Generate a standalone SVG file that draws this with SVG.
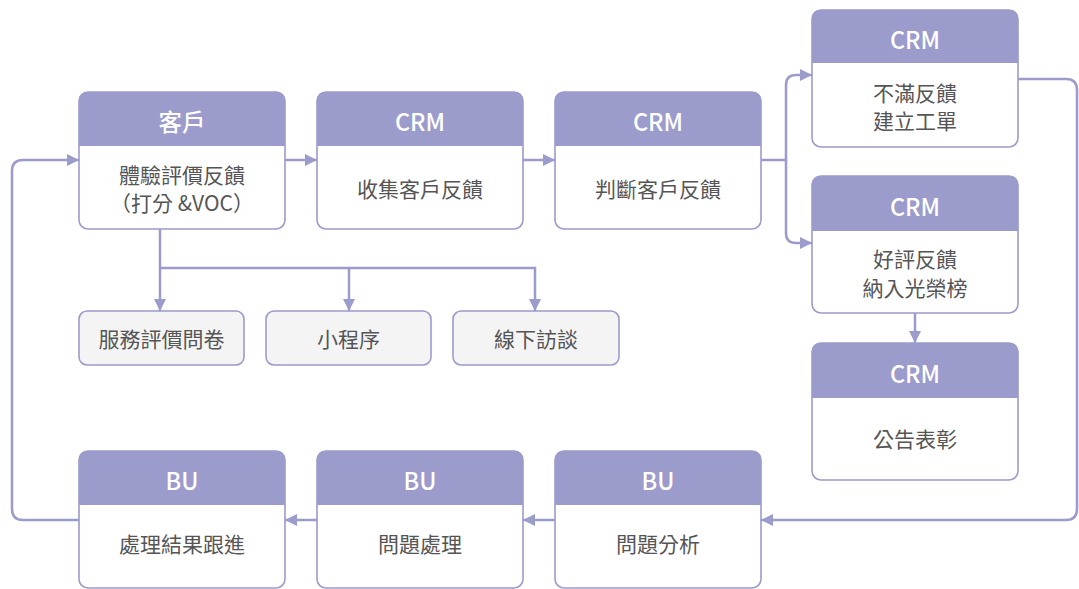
<svg xmlns="http://www.w3.org/2000/svg" width="1079" height="589" viewBox="0 0 1079 589">
<defs>
<style>
.hd{fill:#9b9bcc;}
.bd{fill:#ffffff;stroke:#9b9bcc;stroke-width:1.6;}
.sb{fill:#f4f4f4;stroke:#9b9bcc;stroke-width:1.6;}
.ht{font-family:"Noto Sans CJK TC","Noto Sans",sans-serif;font-size:23.5px;font-weight:500;fill:#ffffff;text-anchor:middle;dominant-baseline:central;}
.bt{font-family:"Noto Sans CJK TC","Noto Sans",sans-serif;font-size:21px;fill:#555555;text-anchor:middle;dominant-baseline:central;}
.ln{fill:none;stroke:#9b9bcc;stroke-width:2.5;}
</style>
<marker id="ar" viewBox="0 0 10 10" refX="10" refY="5" markerWidth="12" markerHeight="12" markerUnits="userSpaceOnUse" orient="auto">
<path d="M0,0 L10,5 L0,10 z" fill="#9b9bcc"/>
</marker>
</defs>

<g id="connectors">
<line class="ln" x1="285" y1="160" x2="317" y2="160" marker-end="url(#ar)"/>
<line class="ln" x1="523" y1="160" x2="555" y2="160" marker-end="url(#ar)"/>
<path class="ln" d="M761 160 H786 V85 Q786 75 796 75 H812" marker-end="url(#ar)"/>
<path class="ln" d="M786 160 V233 Q786 243 796 243 H812" marker-end="url(#ar)"/>
<line class="ln" x1="915" y1="313" x2="915" y2="343" marker-end="url(#ar)"/>
<path class="ln" d="M1018 79 H1066 Q1077 79 1077 90 V509 Q1077 520 1066 520 H761" marker-end="url(#ar)"/>
<line class="ln" x1="555" y1="520" x2="523" y2="520" marker-end="url(#ar)"/>
<line class="ln" x1="317" y1="520" x2="285" y2="520" marker-end="url(#ar)"/>
<path class="ln" d="M79 520 H23 Q12 520 12 509 V171 Q12 160 23 160 H79" marker-end="url(#ar)"/>
<path class="ln" d="M160 229 V311" marker-end="url(#ar)"/>
<path class="ln" d="M160 268 H535 V311" marker-end="url(#ar)"/>
<path class="ln" d="M349 268 V311" marker-end="url(#ar)"/>
</g>

<g id="n-customer">
<rect class="bd" x="79" y="92" width="206" height="137" rx="9"/>
<path class="hd" d="M79 146 V101 Q79 92 88 92 H276 Q285 92 285 101 V146 Z"/>
<text class="ht" x="182" y="121">客戶</text>
<text class="bt" x="182" y="174">體驗評價反饋</text>
<text class="bt" x="182" y="202">（打分 &amp;VOC）</text>
</g>

<g id="n-collect">
<rect class="bd" x="317" y="92" width="206" height="137" rx="9"/>
<path class="hd" d="M317 146 V101 Q317 92 326 92 H514 Q523 92 523 101 V146 Z"/>
<text class="ht" x="420" y="121">CRM</text>
<text class="bt" x="420" y="188">收集客戶反饋</text>
</g>

<g id="n-judge">
<rect class="bd" x="555" y="92" width="206" height="137" rx="9"/>
<path class="hd" d="M555 146 V101 Q555 92 564 92 H752 Q761 92 761 101 V146 Z"/>
<text class="ht" x="658" y="121">CRM</text>
<text class="bt" x="658" y="188">判斷客戶反饋</text>
</g>

<g id="n-unsatisfied">
<rect class="bd" x="812" y="10" width="206" height="137" rx="9"/>
<path class="hd" d="M812 63 V19 Q812 10 821 10 H1009 Q1018 10 1018 19 V63 Z"/>
<text class="ht" x="915" y="39">CRM</text>
<text class="bt" x="915" y="92">不滿反饋</text>
<text class="bt" x="915" y="120">建立工單</text>
</g>

<g id="n-good">
<rect class="bd" x="812" y="176" width="206" height="137" rx="9"/>
<path class="hd" d="M812 231 V185 Q812 176 821 176 H1009 Q1018 176 1018 185 V231 Z"/>
<text class="ht" x="915" y="206">CRM</text>
<text class="bt" x="915" y="258">好評反饋</text>
<text class="bt" x="915" y="287">納入光榮榜</text>
</g>

<g id="n-announce">
<rect class="bd" x="812" y="343" width="206" height="137" rx="9"/>
<path class="hd" d="M812 398 V352 Q812 343 821 343 H1009 Q1018 343 1018 352 V398 Z"/>
<text class="ht" x="915" y="373">CRM</text>
<text class="bt" x="915" y="438">公告表彰</text>
</g>

<g id="n-analyze">
<rect class="bd" x="555" y="451" width="206" height="137" rx="9"/>
<path class="hd" d="M555 505 V460 Q555 451 564 451 H752 Q761 451 761 460 V505 Z"/>
<text class="ht" x="658" y="480">BU</text>
<text class="bt" x="658" y="543">問題分析</text>
</g>

<g id="n-handle">
<rect class="bd" x="317" y="451" width="206" height="137" rx="9"/>
<path class="hd" d="M317 505 V460 Q317 451 326 451 H514 Q523 451 523 460 V505 Z"/>
<text class="ht" x="420" y="480">BU</text>
<text class="bt" x="420" y="543">問題處理</text>
</g>

<g id="n-follow">
<rect class="bd" x="79" y="451" width="206" height="137" rx="9"/>
<path class="hd" d="M79 505 V460 Q79 451 88 451 H276 Q285 451 285 460 V505 Z"/>
<text class="ht" x="182" y="480">BU</text>
<text class="bt" x="182" y="543">處理結果跟進</text>
</g>

<g id="n-survey">
<rect class="sb" x="79" y="311" width="165" height="54" rx="8"/>
<text class="bt" x="161.5" y="338">服務評價問卷</text>
</g>

<g id="n-miniapp">
<rect class="sb" x="266" y="311" width="165" height="54" rx="8"/>
<text class="bt" x="348.5" y="338">小程序</text>
</g>

<g id="n-offline">
<rect class="sb" x="453" y="311" width="166" height="54" rx="8"/>
<text class="bt" x="536" y="338">線下訪談</text>
</g>
</svg>
